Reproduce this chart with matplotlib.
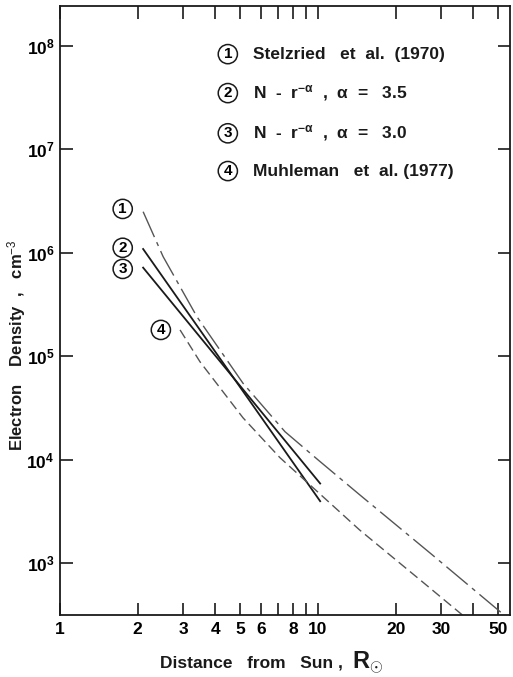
#!/usr/bin/env python3
# -*- coding: utf-8 -*-

# Import libraries
import matplotlib
matplotlib.use("Agg")
import matplotlib.pyplot as plt
from matplotlib.ticker import FixedLocator, NullLocator, NullFormatter

plt.rcParams['font.family'] = ['Liberation Sans', 'DejaVu Sans']
plt.rcParams['mathtext.fontset'] = 'custom'
plt.rcParams['mathtext.rm'] = 'Liberation Sans'
plt.rcParams['mathtext.bf'] = 'Liberation Sans:bold'
plt.rcParams['mathtext.it'] = 'Liberation Sans:italic'

# Data (distance in solar radii, density in cm^-3)
# 1: Stelzried et al. (1970)
stelzried_r = [2.10, 2.51, 3.4, 5.12, 7.45, 10.0, 14.5, 27.7, 54.0]
stelzried_n = [2.5e6, 9.2e5, 2.4e5, 5.5e4, 1.87e4, 1.0e4, 4.6e3, 1.21e3, 3.0e2]

# 2: N ~ r^-a, a = 3.5
power35_r = [2.10, 10.2]
power35_n = [1.09e6, 3.98e3]

# 3: N ~ r^-a, a = 3.0
power30_r = [2.10, 10.2]
power30_n = [7.2e5, 5.9e3]

# 4: Muhleman et al. (1977)
muhleman_r = [2.92, 3.49, 5.12, 7.12, 14.5, 24.9, 37.8]
muhleman_n = [1.8e5, 8.85e4, 2.55e4, 1.05e4, 2.1e3, 6.9e2, 2.91e2]

legend_labels = ["Stelzried   et  al.  (1970)",
                 r"N  -  r$^{\mathregular{-α}}$  ,  α  =   3.5",
                 r"N  -  r$^{\mathregular{-α}}$  ,  α  =   3.0",
                 "Muhleman   et  al. (1977)"]

x_ticks = [1, 2, 3, 4, 5, 6, 8, 10, 20, 30, 50]
x_minor = [7, 9, 40]
y_exponents = [3, 4, 5, 6, 7, 8]

# curve labels: (number, r, N)
curve_tags = [("1", 1.75, 2.66e6), ("2", 1.75, 1.12e6),
              ("3", 1.75, 7.0e5), ("4", 2.46, 1.8e5)]

# Figure
fig = plt.figure(figsize=(5.13, 6.77), dpi=100)
ax = fig.add_axes([0.117, 0.0916, 0.877, 0.8995])
ax.set_xscale("log")
ax.set_yscale("log")
ax.set_xlim(1, 55.5)
ax.set_ylim(10 ** 2.5, 10 ** 8.386)

ax.plot(stelzried_r, stelzried_n, color="#555555", lw=1.0, dashes=(20, 4, 3, 4))
ax.plot(power35_r, power35_n, color="#1a1a1a", lw=1.3)
ax.plot(power30_r, power30_n, color="#1a1a1a", lw=1.3)
ax.plot(muhleman_r, muhleman_n, color="#555555", lw=1.0, dashes=(7, 3.5))

circle = dict(boxstyle="circle,pad=0.17", fc="white", ec="#1a1a1a", lw=1.1)
for num, r, n in curve_tags:
    ax.text(r, n, num, fontsize=11, fontweight="bold", ha="center", va="center",
            bbox=circle)

# Legend with circled numbers
leg_y = [0.921, 0.857, 0.791, 0.729]
for i, (lab, y) in enumerate(zip(legend_labels, leg_y)):
    ax.text(0.373, y, str(i + 1), transform=ax.transAxes, fontsize=11,
            fontweight="bold", ha="center", va="center", bbox=circle)
    ax.text(0.428, y, lab, transform=ax.transAxes, fontsize=12.5,
            fontweight="bold", ha="left", va="center", color="#1a1a1a")

# Ticks
ax.xaxis.set_major_locator(FixedLocator(x_ticks))
ax.set_xticklabels([str(t) for t in x_ticks])
ax.xaxis.set_minor_locator(FixedLocator(x_minor))
ax.xaxis.set_minor_formatter(NullFormatter())
ax.yaxis.set_major_locator(FixedLocator([10.0 ** e for e in y_exponents]))
ax.set_yticklabels([r"$\mathbf{10^{%d}}$" % e for e in y_exponents])
ax.yaxis.set_minor_locator(NullLocator())

ax.tick_params(which="both", direction="in", length=9, width=1.2,
               top=True, right=True, color="#1a1a1a")
ax.tick_params(axis="x", pad=5, labelsize=12.5)
ax.tick_params(axis="y", pad=4, labelsize=12.5)
for lbl in ax.get_xticklabels():
    lbl.set_fontweight("bold")

for s in ax.spines.values():
    s.set_linewidth(1.3)
    s.set_color("#1a1a1a")

fig.text(160 / 513, 1 - 668 / 677, "Distance   from   Sun ,",
         ha="left", va="baseline", fontsize=12.5, fontweight="bold", color="#1a1a1a")
fig.text(352 / 513, 1 - 668 / 677, r"$\mathbf{R}_{\mathbf{\odot}}$",
         ha="left", va="baseline", fontsize=17, color="#1a1a1a")
fig.text(17 / 513, 1 - 345 / 677, r"Electron    Density  ,   cm$^{-3}$",
         ha="center", va="center", rotation=90, fontsize=12, fontweight="bold",
         color="#1a1a1a")

plt.savefig("out.png", dpi=100)
plt.close()
